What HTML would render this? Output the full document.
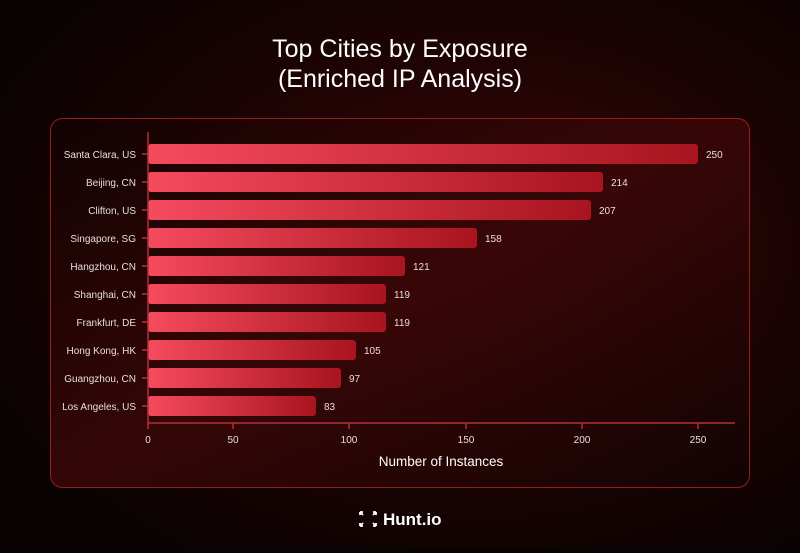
<!DOCTYPE html>
<html><head><meta charset="utf-8"><style>
html,body{margin:0;padding:0}
body{width:800px;height:548px;overflow:hidden;background:#0a0303;font-family:"Liberation Sans",sans-serif}
</style></head><body>
<svg width="800" height="548" viewBox="0 0 800 548" xmlns="http://www.w3.org/2000/svg" font-family="Liberation Sans, sans-serif">
<defs>
<radialGradient id="bg" cx="0.6" cy="0.45" r="0.7">
<stop offset="0" stop-color="#3a0606"/><stop offset="0.6" stop-color="#1a0303"/><stop offset="1" stop-color="#080202"/>
</radialGradient>
<linearGradient id="card" x1="0" y1="0" x2="1" y2="1">
<stop offset="0" stop-color="#120202"/><stop offset="0.5" stop-color="#3a0707"/><stop offset="1" stop-color="#120303"/>
</linearGradient>
<linearGradient id="bar" x1="0" y1="0" x2="1" y2="0">
<stop offset="0" stop-color="#f54b5e"/><stop offset="1" stop-color="#a8141f"/>
</linearGradient>
</defs>
<rect width="800" height="548" fill="url(#bg)"/>
<rect x="50.5" y="118.5" width="699" height="369" rx="12" fill="url(#card)" fill-opacity="0.85" stroke="#9b1a1a" stroke-width="1"/>
<text x="400" y="57" fill="#fff" font-size="25" text-anchor="middle">Top Cities by Exposure</text>
<text x="400" y="87" fill="#fff" font-size="25" text-anchor="middle">(Enriched IP Analysis)</text>
<g fill="url(#bar)">
<rect x="148" y="144" width="550" height="20" rx="3"/>
<rect x="148" y="172" width="455" height="20" rx="3"/>
<rect x="148" y="200" width="443" height="20" rx="3"/>
<rect x="148" y="228" width="329" height="20" rx="3"/>
<rect x="148" y="256" width="257" height="20" rx="3"/>
<rect x="148" y="284" width="238" height="20" rx="3"/>
<rect x="148" y="312" width="238" height="20" rx="3"/>
<rect x="148" y="340" width="208" height="20" rx="3"/>
<rect x="148" y="368" width="193" height="20" rx="3"/>
<rect x="148" y="396" width="168" height="20" rx="3"/>
</g>
<g fill="#e8dede" font-size="10">
<text x="706" y="158">250</text><text x="611" y="186">214</text><text x="599" y="214">207</text>
<text x="485" y="242">158</text><text x="413" y="270">121</text><text x="394" y="298">119</text>
<text x="394" y="326">119</text><text x="364" y="354">105</text><text x="349" y="382">97</text>
<text x="324" y="410">83</text>
</g>
<g fill="#e8dede" font-size="10" text-anchor="end">
<text x="136" y="158">Santa Clara, US</text><text x="136" y="186">Beijing, CN</text>
<text x="136" y="214">Clifton, US</text><text x="136" y="242">Singapore, SG</text>
<text x="136" y="270">Hangzhou, CN</text><text x="136" y="298">Shanghai, CN</text>
<text x="136" y="326">Frankfurt, DE</text><text x="136" y="354">Hong Kong, HK</text>
<text x="136" y="382">Guangzhou, CN</text><text x="136" y="410">Los Angeles, US</text>
</g>
<g stroke="#b3303a" stroke-width="1.5">
<line x1="148" y1="132" x2="148" y2="423"/>
<line x1="148" y1="423" x2="735" y2="423"/>
<path d="M142 154h6M142 182h6M142 210h6M142 238h6M142 266h6M142 294h6M142 322h6M142 350h6M142 378h6M142 406h6"/>
<path d="M148 423v6M233 423v6M349 423v6M466 423v6M582 423v6M698 423v6"/>
</g>
<g fill="#e8dede" font-size="10" text-anchor="middle">
<text x="148" y="443">0</text><text x="233" y="443">50</text><text x="349" y="443">100</text>
<text x="466" y="443">150</text><text x="582" y="443">200</text><text x="698" y="443">250</text>
</g>
<text x="441" y="466" fill="#fff" font-size="13.5" text-anchor="middle">Number of Instances</text>
<g stroke="#fff" stroke-width="1.8" fill="none">
<path d="M360 512l3 3M360 512h3M360 512v3M376 512l-3 3M376 512h-3M376 512v3M360 526l3-3M360 526h3M360 526v-3M376 526l-3-3M376 526h-3M376 526v-3"/>
</g>
<text x="383" y="525" fill="#fff" font-size="17" font-weight="bold">Hunt.io</text>
</svg>
</body></html>
